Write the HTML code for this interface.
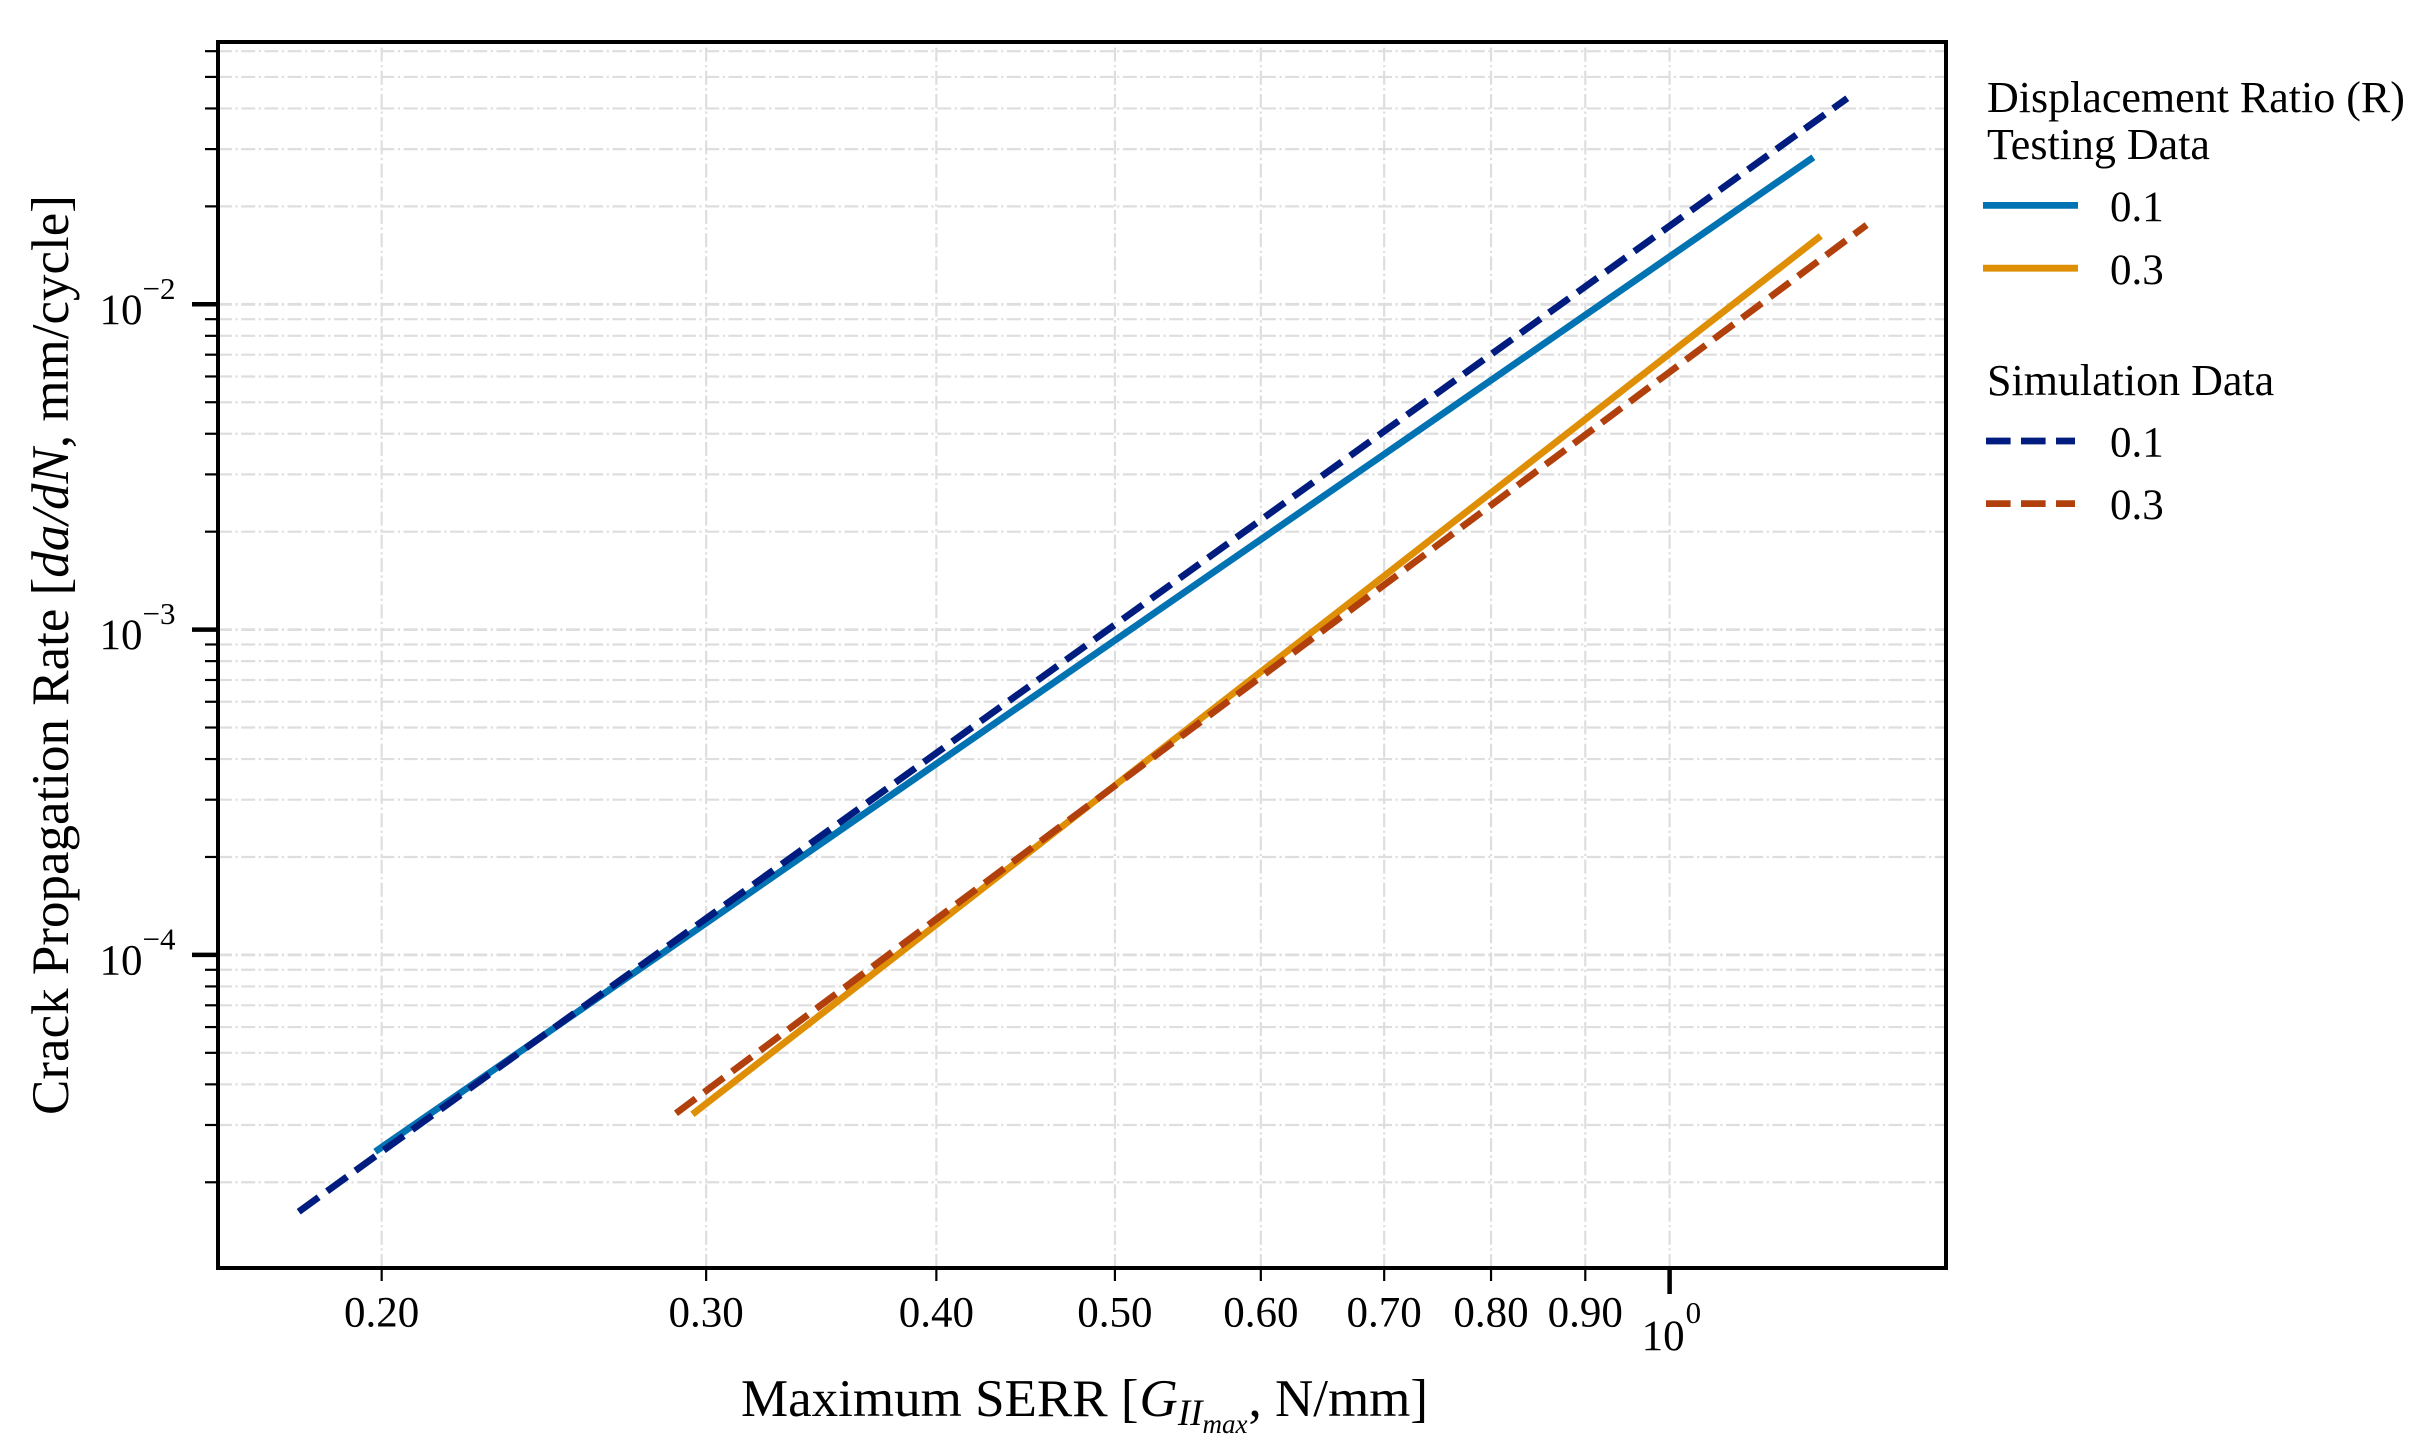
<!DOCTYPE html>
<html lang="en">
<head>
<meta charset="utf-8">
<title>Crack Propagation Rate vs Maximum SERR</title>
<style>
html,body{margin:0;padding:0;background:#fff;}
svg{display:block;}
text{font-family:"Liberation Serif","Times New Roman",serif;fill:#000;}
</style>
</head>
<body>
<svg id="chart" xmlns="http://www.w3.org/2000/svg" width="2429" height="1450" viewBox="0 0 2429 1450">
  <rect x="0" y="0" width="2429" height="1450" fill="#fff"/>
  <g id="grid"></g>
  <g id="series"></g>
  <g id="ticks"></g>
  <rect x="218" y="42" width="1728" height="1226" fill="none" stroke="#000" stroke-width="4"/>

  <text x="741" y="1416" font-size="53">Maximum SERR [<tspan font-style="italic" dx="1">G</tspan><tspan font-style="italic" font-size="37" dy="9">II</tspan><tspan font-style="italic" font-size="27" dy="8">max</tspan><tspan dy="-17" dx="1">, N/mm]</tspan></text>
  <text transform="translate(68,655) rotate(-90)" text-anchor="middle" font-size="53">Crack Propagation Rate [<tspan font-style="italic">da/dN</tspan>, mm/cycle]</text>

  <g font-size="44">
    <text x="1987" y="112">Displacement Ratio (R)</text>
    <text x="1987" y="159">Testing Data</text>
    <line x1="1983" x2="2078" y1="205.4" y2="205.4" stroke="#0173b2" stroke-width="6.8"/>
    <text x="2110" y="221" font-size="43">0.1</text>
    <line x1="1983" x2="2078" y1="268.2" y2="268.2" stroke="#de8f05" stroke-width="6.8"/>
    <text x="2110" y="284" font-size="43">0.3</text>
    <text x="1987" y="395">Simulation Data</text>
    <line x1="1986" x2="2075" y1="441" y2="441" stroke="#001c7f" stroke-width="6.8" stroke-dasharray="24.6 10.4"/>
    <text x="2110" y="456.5" font-size="43">0.1</text>
    <line x1="1986" x2="2075" y1="503.6" y2="503.6" stroke="#b1400d" stroke-width="6.8" stroke-dasharray="24.6 10.4"/>
    <text x="2110" y="519" font-size="43">0.3</text>
  </g>
</svg>
<script>
// Axis tick values and labels
var xMinorTicks = [0.2, 0.3, 0.4, 0.5, 0.6, 0.7, 0.8, 0.9];
var xMinorLabels = ["0.20", "0.30", "0.40", "0.50", "0.60", "0.70", "0.80", "0.90"];
var xMajorTicks = [1];
var xMajorExponents = ["0"];
var yMajorTicks = [1e-4, 1e-3, 1e-2];
var yMajorExponents = ["\u22124", "\u22123", "\u22122"];
var yMinorTicks = [2e-5, 3e-5, 4e-5, 5e-5, 6e-5, 7e-5, 8e-5, 9e-5,
                   2e-4, 3e-4, 4e-4, 5e-4, 6e-4, 7e-4, 8e-4, 9e-4,
                   2e-3, 3e-3, 4e-3, 5e-3, 6e-3, 7e-3, 8e-3, 9e-3,
                   2e-2, 3e-2, 4e-2, 5e-2, 6e-2];

// Series values
var testing01X = [0.1984, 0.3, 0.5, 0.7, 1.0, 1.1968];
var testing01Y = [2.484e-5, 1.253e-4, 9.27e-4, 3.46e-3, 0.01401, 0.02831];
var testing03X = [0.2949, 0.4, 0.5, 0.7, 1.0, 1.2079];
var testing03Y = [3.236e-5, 1.239e-4, 3.32e-4, 1.462e-3, 7.05e-3, 0.01622];
var simulation01X = [0.1803, 0.2, 0.3, 0.5, 0.7, 1.0, 1.2486];
var simulation01Y = [1.624e-5, 2.483e-5, 1.294e-4, 1.035e-3, 4.07e-3, 0.01741, 0.04298];
var simulation03X = [0.2889, 0.4, 0.5, 0.7, 1.0, 1.2792];
var simulation03Y = [3.259e-5, 1.289e-4, 3.31e-4, 1.372e-3, 6.19e-3, 0.01753];

// Axis functions
function xScale(v) { return 1669.6 + 1842.6 * Math.log10(v); }
function yScale(v) { return 954.9 - 325.3 * (Math.log10(v) + 4); }

var NS = "http://www.w3.org/2000/svg";
var gridG = document.getElementById("grid");
var tickG = document.getElementById("ticks");
var seriesG = document.getElementById("series");

function makeLine(parent, x1, y1, x2, y2, color, width, dash) {
  var l = document.createElementNS(NS, "line");
  l.setAttribute("x1", x1);
  l.setAttribute("y1", y1);
  l.setAttribute("x2", x2);
  l.setAttribute("y2", y2);
  l.setAttribute("stroke", color);
  l.setAttribute("stroke-width", width);
  if (dash) l.setAttribute("stroke-dasharray", dash);
  parent.appendChild(l);
  return l;
}

var GRID_COLOR = "#dedede";
var GRID_DASH = "14 3.5 2.2 3.5";
var AX_L = 218, AX_R = 1946, AX_T = 42, AX_B = 1268;

// Horizontal grid + y ticks
yMinorTicks.forEach(function (v) {
  var y = yScale(v);
  var g = makeLine(gridG, AX_L, y, AX_R, y, GRID_COLOR, 2.2, GRID_DASH);
  
  
  var t = makeLine(tickG, AX_L - 13, y, AX_L, y, "#000", 2.2);
  
  
});
yMajorTicks.forEach(function (v, i) {
  var y = yScale(v);
  var g = makeLine(gridG, AX_L, y, AX_R, y, GRID_COLOR, 2.8, GRID_DASH);
  
  
  var t = makeLine(tickG, AX_L - 26, y, AX_L, y, "#000", 4.5);
  
  
  var txt = document.createElementNS(NS, "text");
  
  
  txt.setAttribute("x", 175.5);
  txt.setAttribute("y", y + 19.5);
  txt.setAttribute("text-anchor", "end");
  txt.setAttribute("font-size", "43");
  var base = document.createElementNS(NS, "tspan");
  base.textContent = "10";
  var sup = document.createElementNS(NS, "tspan");
  sup.setAttribute("font-size", "31");
  sup.setAttribute("dy", "-25");
  sup.textContent = yMajorExponents[i];
  txt.appendChild(base);
  txt.appendChild(sup);
  tickG.appendChild(txt);
});

// Vertical grid + x ticks
xMinorTicks.forEach(function (v, i) {
  var x = xScale(v);
  var g = makeLine(gridG, x, AX_B, x, AX_T, GRID_COLOR, 2.2, GRID_DASH);
  
  
  var t = makeLine(tickG, x, AX_B, x, AX_B + 13, "#000", 2.2);
  
  
  var txt = document.createElementNS(NS, "text");
  
  
  txt.setAttribute("x", x);
  txt.setAttribute("y", 1326.7);
  txt.setAttribute("text-anchor", "middle");
  txt.setAttribute("font-size", "43");
  txt.textContent = xMinorLabels[i];
  tickG.appendChild(txt);
});
xMajorTicks.forEach(function (v, i) {
  var x = xScale(v);
  var g = makeLine(gridG, x, AX_B, x, AX_T, GRID_COLOR, 2.2, GRID_DASH);
  
  
  var t = makeLine(tickG, x, AX_B, x, AX_B + 26, "#000", 4.5);
  
  
  var txt = document.createElementNS(NS, "text");
  
  
  txt.setAttribute("x", x - 28);
  txt.setAttribute("y", 1350);
  txt.setAttribute("font-size", "43");
  var base = document.createElementNS(NS, "tspan");
  base.textContent = "10";
  var sup = document.createElementNS(NS, "tspan");
  sup.setAttribute("font-size", "31");
  sup.setAttribute("dy", "-27");
  sup.setAttribute("dx", "1");
  sup.textContent = xMajorExponents[i];
  txt.appendChild(base);
  txt.appendChild(sup);
  tickG.appendChild(txt);
});

// Series
function pointsFrom(xs, ys) {
  return xs.map(function (v, i) {
    return xScale(v).toFixed(2) + "," + yScale(ys[i]).toFixed(2);
  }).join(" ");
}
function makeSeries(xs, ys, color, dash) {
  var p = document.createElementNS(NS, "polyline");
  p.setAttribute("points", pointsFrom(xs, ys));
  p.setAttribute("fill", "none");
  p.setAttribute("stroke", color);
  p.setAttribute("stroke-width", "6.8");
  p.setAttribute("stroke-linejoin", "round");
  if (dash) p.setAttribute("stroke-dasharray", dash);
  seriesG.appendChild(p);
  return p;
}
var s1 = makeSeries(testing01X, testing01Y, "#0173b2");


var s2 = makeSeries(testing03X, testing03Y, "#de8f05");


var s3 = makeSeries(simulation01X, simulation01Y, "#001c7f", "24.6 10.4");


var s4 = makeSeries(simulation03X, simulation03Y, "#b1400d", "24.6 10.4");


</script>
</body>
</html>
